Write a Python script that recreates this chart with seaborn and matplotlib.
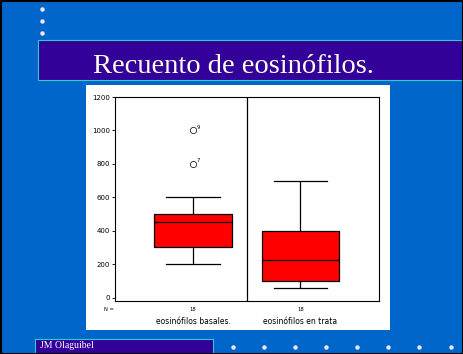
import pandas as pd
import matplotlib.pyplot as plt
import matplotlib.patches as mpatches
from matplotlib.lines import Line2D
import seaborn as sns

# datos (N = 18 por grupo)
grupos = ['eosinófilos basales.', 'eosinófilos en trata']
basales = [200, 250, 300, 300, 300, 300, 350, 400, 450, 450,
           500, 500, 500, 500, 550, 600, 800, 1000]
tratamiento = [60, 80, 100, 100, 100, 100, 150, 200, 200, 250,
               300, 350, 400, 400, 450, 500, 600, 700]
casos_atipicos = [(0, 1000, '9'), (0, 800, '7')]
y_ticks = [0, 200, 400, 600, 800, 1000, 1200]
titulo = 'Recuento de eosinófilos.'
autor = 'JM Olaguibel'

df = pd.DataFrame({
    'grupo': [grupos[0]] * len(basales) + [grupos[1]] * len(tratamiento),
    'valor': basales + tratamiento,
})

W, H = 464, 354
fig = plt.figure(figsize=(W / 100, H / 100), dpi=100)
fig.patch.set_facecolor('#0066CC')


def px_rect(x0, y0, x1, y1, z=1, **kw):
    # rectangulo en pixeles (origen arriba a la izquierda)
    r = mpatches.Rectangle((x0 / W, 1 - y1 / H), (x1 - x0) / W, (y1 - y0) / H,
                           transform=fig.transFigure, zorder=z, **kw)
    fig.add_artist(r)


def px_dot(x, y):
    fig.add_artist(Line2D([x / W], [1 - y / H], marker='o', markersize=2.2,
                          color='#F4E8F0', transform=fig.transFigure))


# barra del titulo
px_rect(38, 40, 466, 80, facecolor='#330099', edgecolor='#33CCCC', linewidth=0.8)
fig.text(93 / W, 1 - 73 / H, titulo, color='#FFFFEE', fontsize=20.5,
         family='Liberation Serif', ha='left', va='baseline')

# panel blanco
px_rect(86, 85, 390, 330, z=-1, facecolor='white', edgecolor='none')

# pie
px_rect(35, 339, 213, 356, facecolor='#330099', edgecolor='#33CCCC', linewidth=0.8)
fig.text(40 / W, 1 - 348 / H, autor, color='white', fontsize=7,
         family='Liberation Serif', ha='left', va='baseline')

for yy in [9, 21, 33]:
    px_dot(42, yy)
for xx in [233, 264, 295, 326, 357, 388, 419, 451]:
    px_dot(xx, 347)

# borde negro
px_rect(0.5, 0.5, W - 0.5, H - 0.5, z=10, facecolor='none', edgecolor='black', linewidth=1.5)

ax = fig.add_axes([115 / W, 1 - 301 / H, 264 / W, 204 / H])
ax.set_zorder(5)
ax.set_facecolor('white')
sns.boxplot(data=df, x='grupo', y='valor', ax=ax, color='red', saturation=1,
            width=0.725, whis=1.2, linecolor='black', linewidth=0.9,
            fliersize=4.5, capwidths=0.5,
            flierprops=dict(marker='o', markerfacecolor='none',
                            markeredgecolor='black', markeredgewidth=0.5))

for x, y, etiqueta in casos_atipicos:
    ax.annotate(etiqueta, (x, y), xytext=(2.5, 0.5), textcoords='offset points',
                fontsize=3.8, ha='left', va='bottom', color='black')

ax.axvline(0.5, color='black', linewidth=0.9)
ax.set_xlim(-0.725, 1.73)
ax.set_ylim(-20, 1200)
ax.set_yticks(y_ticks)
ax.set_yticklabels([str(t) for t in y_ticks], fontsize=5)
ax.tick_params(axis='y', length=2, width=0.6, pad=1.5)
ax.set_xticks([])
ax.set_xlabel('')
ax.set_ylabel('')
for s in ax.spines.values():
    s.set_color('black')
    s.set_linewidth(0.8)

# recuentos N y etiquetas de grupo
trans = ax.get_xaxis_transform()
ax.text(-0.74, -0.04, 'N =', transform=trans, fontsize=3.8, ha='right', va='center')
for i, g in enumerate(grupos):
    n = len(basales) if i == 0 else len(tratamiento)
    ax.text(i, -0.04, str(n), transform=trans, fontsize=3.8, ha='center', va='center')
    ax.text(i, -0.10, g, transform=trans, fontsize=5.5, ha='center', va='center')

fig.savefig('out.png', dpi=100, facecolor=fig.get_facecolor())
